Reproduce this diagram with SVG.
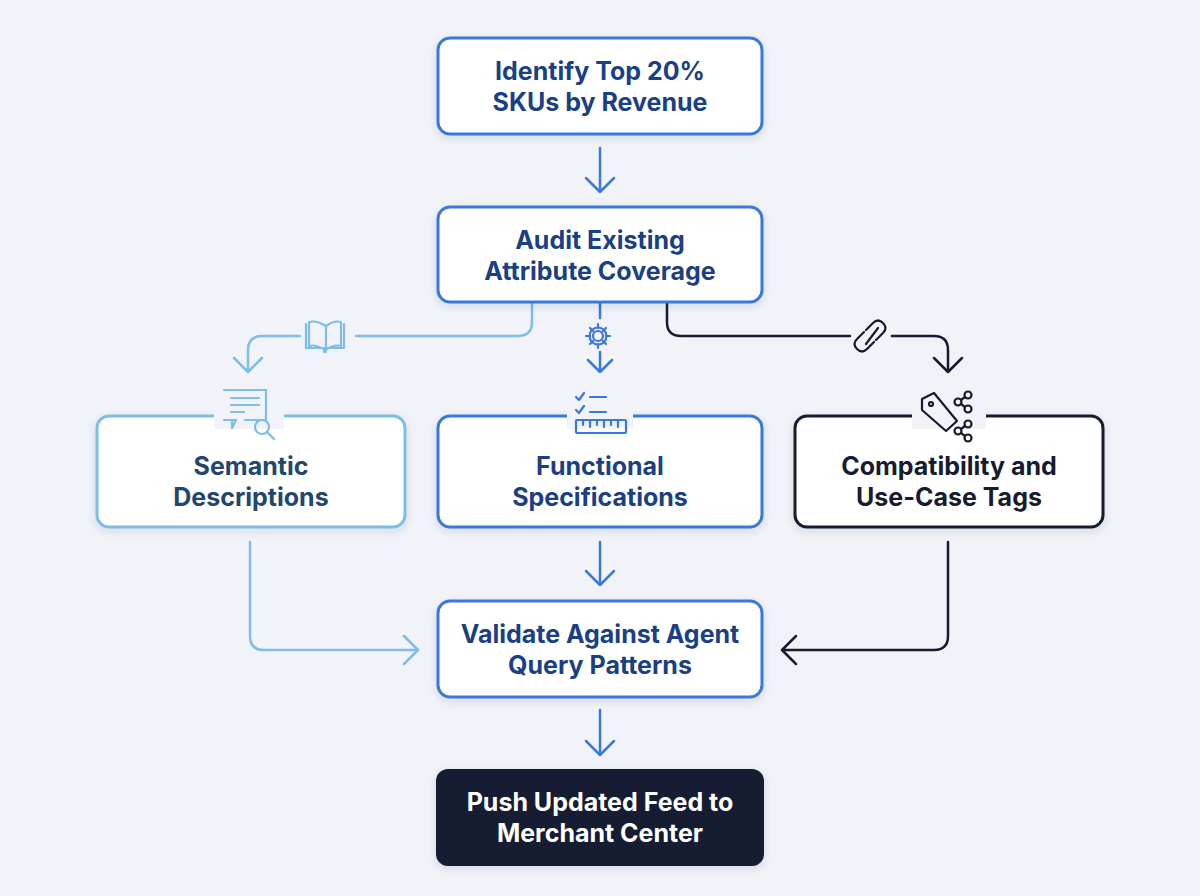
<svg xmlns="http://www.w3.org/2000/svg" width="1200" height="896" viewBox="0 0 1200 896">
<defs>
<style>
.t{font-family:Inter,"Liberation Sans",sans-serif;font-weight:700;font-size:25px;text-anchor:middle}
.bb{fill:#fff;stroke:#3a78d9;stroke-width:3}
.lb{fill:#fff;stroke:#7cbde9;stroke-width:3}
.db{fill:#fff;stroke:#171b30;stroke-width:3}
.c{fill:none;stroke-width:2.5;stroke-linecap:round;stroke-linejoin:round}
.bl{stroke:#3a78d9}.li{stroke:#7cbde9}.dk{stroke:#171b30}
</style>
<filter id="sh" x="-10%" y="-10%" width="120%" height="130%"><feDropShadow dx="0" dy="3" stdDeviation="4" flood-color="#1b2a55" flood-opacity="0.12"/></filter>
</defs>
<rect width="1200" height="896" fill="#f1f3f8"/>
<g id="connectors">
<path class="c bl" d="M600 148V192M586 178L600 192L614 178"/>
<path class="c li" d="M532 302V322Q532 336 518 336H356M300 336H262Q248 336 248 350V372M234 358L248 372L262 358"/>
<path class="c bl" d="M600 302V318M600 352V372M588 360L600 372L612 360"/>
<path class="c dk" d="M667 302V322Q667 336 681 336H850M892 336H934Q948 336 948 350V372M934 358L948 372L962 358"/>
<path class="c li" d="M250 542V636Q250 650 264 650H418M404 636L418 650L404 664"/>
<path class="c bl" d="M600 542V585M586 571L600 585L614 571"/>
<path class="c dk" d="M948 542V636Q948 650 934 650H782M796 636L782 650L796 664"/>
<path class="c bl" d="M600 710V755M586 741L600 755L614 741"/>
</g>
<g id="n1"><rect class="bb" x="438" y="38" width="324" height="96" rx="12" filter="url(#sh)"/><text class="t" fill="#1a3f85" x="600" y="80">Identify Top 20%</text><text class="t" fill="#1a3f85" x="600" y="111">SKUs by Revenue</text></g>
<g id="n2"><rect class="bb" x="438" y="207" width="324" height="95" rx="12" filter="url(#sh)"/><text class="t" fill="#1a3f85" x="600" y="249">Audit Existing</text><text class="t" fill="#1a3f85" x="600" y="280">Attribute Coverage</text></g>
<g id="n3"><rect class="lb" x="97" y="416" width="308" height="111" rx="12" filter="url(#sh)"/><rect x="214" y="405" width="70" height="24" fill="#f1f3f8"/><text class="t" fill="#21466f" x="251" y="475">Semantic</text><text class="t" fill="#21466f" x="251" y="506">Descriptions</text></g>
<g id="n4"><rect class="bb" x="438" y="416" width="324" height="111" rx="12" filter="url(#sh)"/><rect x="567" y="405" width="66" height="24" fill="#f1f3f8"/><text class="t" fill="#1a3f85" x="600" y="475">Functional</text><text class="t" fill="#1a3f85" x="600" y="506">Specifications</text></g>
<g id="n5"><rect class="db" x="795" y="416" width="308" height="111" rx="12" filter="url(#sh)"/><rect x="912" y="405" width="74" height="24" fill="#f1f3f8"/><text class="t" fill="#171b30" x="949" y="475">Compatibility and</text><text class="t" fill="#171b30" x="949" y="506">Use-Case Tags</text></g>
<g id="n6"><rect class="bb" x="438" y="601" width="324" height="96" rx="12" filter="url(#sh)"/><text class="t" fill="#1a3f85" x="600" y="643">Validate Against Agent</text><text class="t" fill="#1a3f85" x="600" y="674">Query Patterns</text></g>
<g id="n7"><rect x="436" y="769" width="328" height="97" rx="12" fill="#161a33" filter="url(#sh)"/><text class="t" fill="#fff" x="600" y="811">Push Updated Feed to</text><text class="t" fill="#fff" x="600" y="842">Merchant Center</text></g>
<g id="icons" fill="none" stroke-width="2.2" stroke-linecap="round" stroke-linejoin="round">
<g stroke="#7cbde9"><path d="M306 324V348H324V352H326V348H344V324M326 350V326Q316 320 309 322V346Q316 344 325 350Q334 344 341 346V322Q334 320 326 326"/>
<path d="M224 390H266V420H245M236 420L232 428V420H224ZM231 398H259M231 405H259M231 412H244"/><circle cx="262" cy="427" r="7"/><path d="M267 432L274 439"/></g>
<g stroke="#3a78d9"><circle cx="598" cy="336" r="5"/><path d="M598 324V328M598 344V348M586 336H590M606 336H610M590 328L593 331M603 341L606 344M590 344L593 341M603 331L606 328"/><circle cx="598" cy="336" r="8.5"/>
<path d="M576 397L579 400L584 393M576 410L579 413L584 406M590 397H606M590 412H606"/><rect x="576" y="420" width="50" height="13" rx="1"/><path d="M583 420V425M590 420V427M597 420V425M604 420V427M611 420V425M618 420V427"/></g>
<g stroke="#171b30"><path d="M866 330L873 323Q878 318 883 323Q888 328 883 333L876 340M874 342L867 349Q862 354 857 349Q852 344 857 339L864 332M866 344L878 328"/>
<path d="M922 399L934 393L957 421L946 431L922 410Z"/><circle cx="931" cy="404" r="2"/><circle cx="968" cy="395" r="3.5"/><circle cx="968" cy="409" r="3.5"/><circle cx="958" cy="402" r="3.5"/><path d="M961 400L965 397M961 404L965 407"/><circle cx="968" cy="424" r="3.5"/><circle cx="968" cy="438" r="3.5"/><circle cx="958" cy="431" r="3.5"/><path d="M961 429L965 426M961 433L965 436"/></g>
</g>
</svg>
